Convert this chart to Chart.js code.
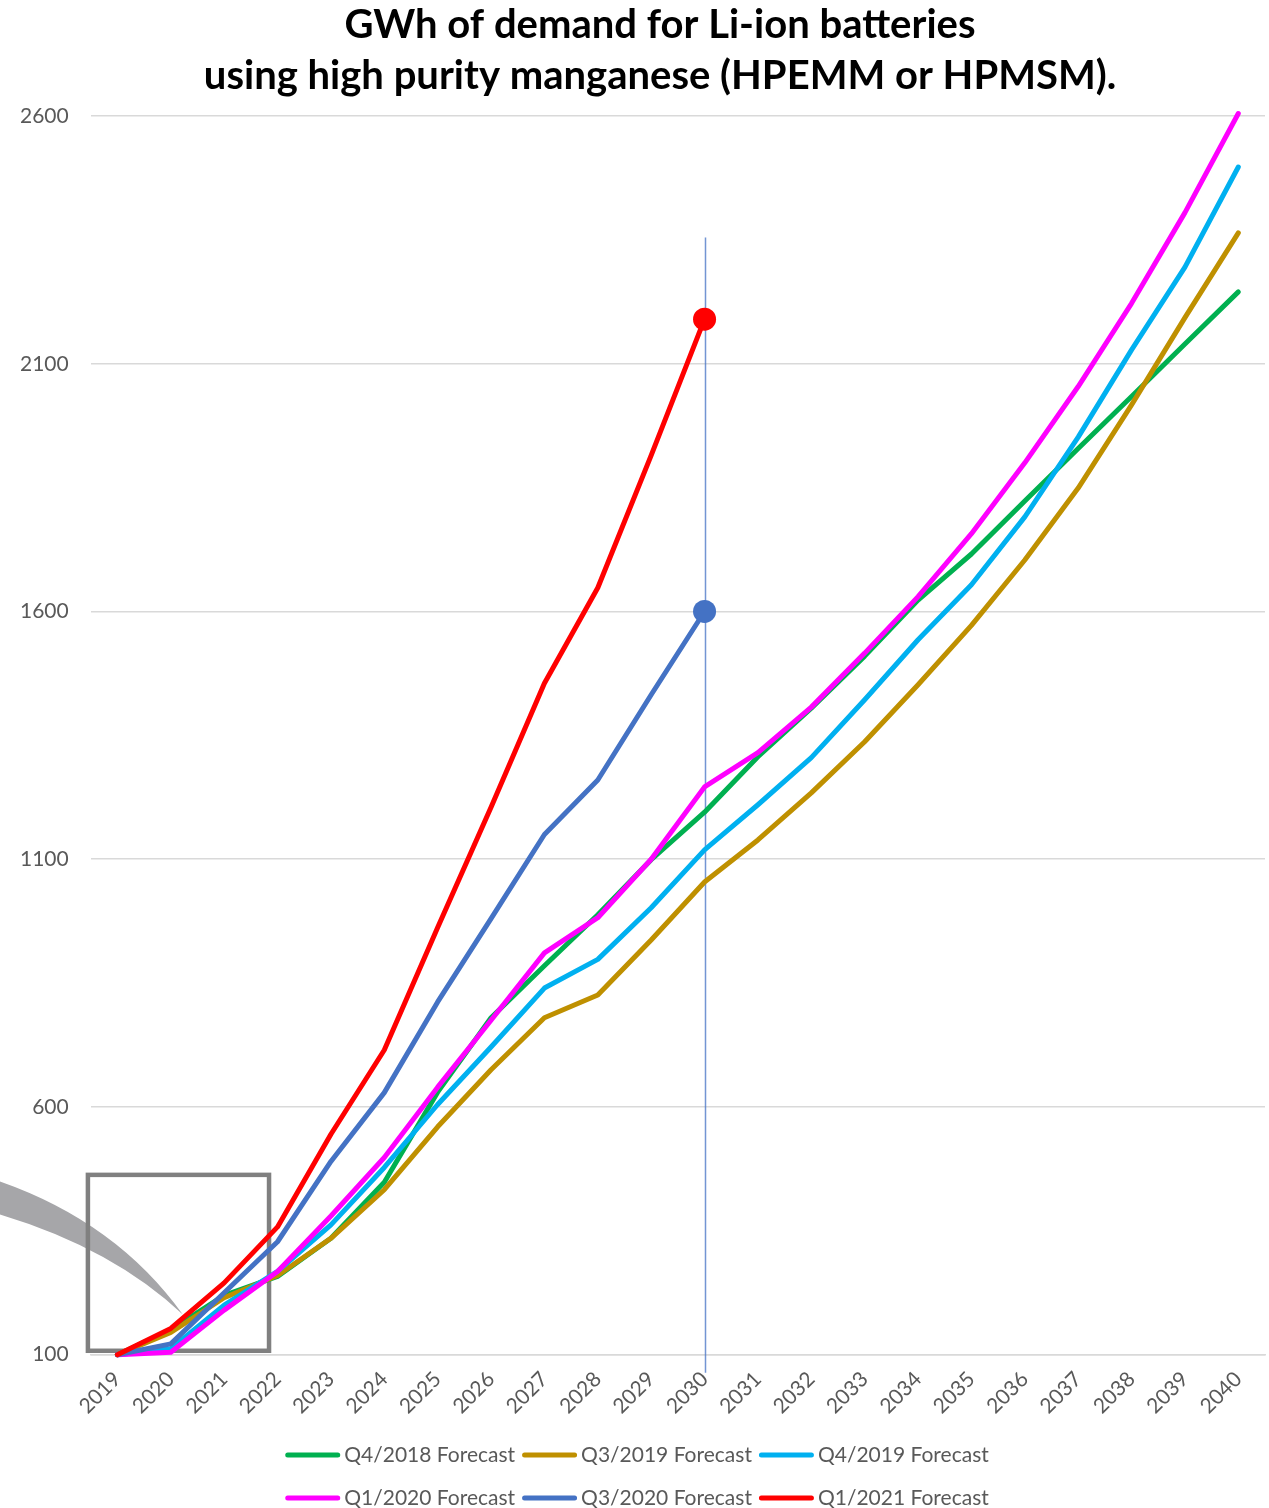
<!DOCTYPE html>
<html>
<head>
<meta charset="utf-8">
<title>GWh of demand for Li-ion batteries using high purity manganese</title>
<script src="https://cdn.jsdelivr.net/npm/chart.js@4.4.1/dist/chart.umd.min.js"></script>
<style>
  html, body { margin: 0; padding: 0; background: #ffffff; }
  #wrap { width: 1269px; height: 1508px; position: relative; }
</style>
</head>
<body>
<div id="wrap"><canvas id="chart" width="1269" height="1508"></canvas></div>
<script>
// Forecast years on the category axis
const years = ['2019','2020','2021','2022','2023','2024','2025','2026','2027','2028','2029','2030',
               '2031','2032','2033','2034','2035','2036','2037','2038','2039','2040'];

// GWh demand, one array per forecast vintage
const q4_2018 = [100, 150, 220, 258, 335, 448, 630, 780, 885, 988, 1099, 1195, 1307, 1405, 1510, 1623, 1716, 1823, 1929, 2034, 2140, 2245];
const q3_2019 = [100, 145, 215, 260, 335, 433, 560, 675, 780, 826, 937, 1054, 1139, 1234, 1337, 1452, 1572, 1704, 1849, 2017, 2193, 2364];
const q4_2019 = [100, 112, 200, 268, 362, 478, 605, 721, 840, 898, 1002, 1119, 1210, 1305, 1422, 1543, 1654, 1791, 1952, 2128, 2295, 2497];
const q1_2020 = [100, 105, 190, 268, 380, 498, 640, 775, 911, 982, 1100, 1246, 1315, 1407, 1516, 1630, 1757, 1900, 2054, 2222, 2405, 2605];
const q3_2020 = [100, 122, 225, 328, 490, 629, 812, 980, 1150, 1260, 1432, 1600];
const q1_2021 = [100, 153, 245, 358, 545, 715, 962, 1205, 1455, 1648, 1915, 2190];

// Y axis range and tick step
const yMin = 100;
const yMax = 2600;
const yStep = 500;

const seriesNames = ['Q4/2018 Forecast', 'Q3/2019 Forecast', 'Q4/2019 Forecast',
                     'Q1/2020 Forecast', 'Q3/2020 Forecast', 'Q1/2021 Forecast'];
const seriesColors = ['#00B050', '#BF9000', '#00B0F0', '#FF00FF', '#4472C4', '#FF0000'];
const seriesData = [q4_2018, q3_2019, q4_2019, q1_2020, q3_2020, q1_2021];

const titleLines = ['GWh of demand for Li-ion batteries', 'using high purity manganese (HPEMM or HPMSM).'];

const FONT = "Lato, 'Open Sans', 'Noto Sans', sans-serif";
const TEXT_GREY = '#595959';

// Marker only on the final year of the shorter forecasts
function endMarker(arr) {
  return arr.map((v, i) => (i === arr.length - 1 && arr.length < years.length) ? 11.5 : 0);
}

const datasets = seriesData.map((arr, i) => ({
  label: seriesNames[i],
  data: arr,
  borderColor: seriesColors[i],
  backgroundColor: seriesColors[i],
  borderWidth: 5,
  borderJoinStyle: 'round',
  borderCapStyle: 'round',
  tension: 0,
  fill: false,
  pointRadius: endMarker(arr),
  pointHoverRadius: endMarker(arr),
  pointBorderWidth: 0,
  pointBackgroundColor: seriesColors[i],
  clip: false,
  order: seriesData.length - i
}));

// Title, legend, the 2030 marker line and the zoom callout
const decorations = {
  id: 'decorations',
  beforeDatasetsDraw(chart) {
    const { ctx, scales: { x, y }, chartArea } = chart;
    ctx.save();

    // callout tail
    const tipX = x.getPixelForValue(1) + 12;
    const tipY = y.getPixelForValue(181);
    ctx.fillStyle = '#a6a6a9';
    ctx.beginPath();
    ctx.moveTo(0, tipY - 133);
    ctx.quadraticCurveTo(tipX - 66, tipY - 92, tipX, tipY);
    ctx.quadraticCurveTo(tipX - 70, tipY - 66, 0, tipY - 100);
    ctx.closePath();
    ctx.fill();

    // callout frame around the early years
    const bx0 = x.getPixelForValue(0) - 29.5;
    const bx1 = x.getPixelForValue(3) - 8.5;
    const by0 = y.getPixelForValue(463);
    const by1 = y.getPixelForValue(108);
    ctx.strokeStyle = '#808080';
    ctx.lineWidth = 4.5;
    ctx.strokeRect(bx0, by0, bx1 - bx0, by1 - by0);

    // vertical marker at 2030
    const vx = Math.round(x.getPixelForValue(years.indexOf('2030'))) + 0.5;
    ctx.strokeStyle = 'rgba(68,114,196,0.75)';
    ctx.lineWidth = 1.5;
    ctx.beginPath();
    ctx.moveTo(vx, y.getPixelForValue(2355));
    ctx.lineTo(vx, chartArea.bottom + 18);
    ctx.stroke();
    ctx.restore();
  },
  afterDraw(chart) {
    const { ctx } = chart;
    ctx.save();
    // title
    ctx.fillStyle = '#000000';
    ctx.font = `bold 40px ${FONT}`;
    ctx.textAlign = 'center';
    ctx.textBaseline = 'middle';
    ctx.fillText(titleLines[0], 660, 25);
    ctx.fillText(titleLines[1], 660, 76);

    // legend: three entries per row
    ctx.font = `21px ${FONT}`;
    ctx.textAlign = 'left';
    const sw = 55, gapText = 4, gapItem = 7;
    const rows = [[0, 1, 2], [3, 4, 5]];
    const rowY = [1455, 1498];
    const itemW = chart.data.datasets.map(d => sw + gapText + ctx.measureText(d.label).width);
    const colW = [0, 1, 2].map(c => Math.max(itemW[c], itemW[c + 3]));
    const total = colW[0] + colW[1] + colW[2] + 2 * gapItem;
    const startX = 637 - total / 2;
    rows.forEach((row, r) => {
      let cx = startX;
      row.forEach((di, c) => {
        const ds = chart.data.datasets[di];
        ctx.strokeStyle = ds.borderColor;
        ctx.lineWidth = 5;
        ctx.lineCap = 'round';
        ctx.beginPath();
        ctx.moveTo(cx + 2.5, rowY[r]);
        ctx.lineTo(cx + sw - 2.5, rowY[r]);
        ctx.stroke();
        ctx.fillStyle = TEXT_GREY;
        ctx.fillText(ds.label, cx + sw + gapText, rowY[r]);
        cx += colW[c] + gapItem;
      });
    });
    ctx.restore();
  }
};

new Chart(document.getElementById('chart'), {
  type: 'line',
  data: { labels: years, datasets },
  options: {
    responsive: false,
    animation: false,
    events: [],
    layout: { autoPadding: false, padding: { top: 116, right: 4, bottom: 85, left: -2 } },
    plugins: {
      legend: { display: false },
      title: { display: false },
      tooltip: { enabled: false }
    },
    scales: {
      x: {
        offset: true,
        grid: { display: false },
        border: { display: true, color: '#d9d9d9', width: 1.5 },
        // rotated labels never reach past the last category, so no extra right margin
        afterFit: (scale) => { scale.paddingRight = 0; },
        ticks: {
          color: TEXT_GREY,
          font: { family: FONT, size: 21 },
          minRotation: 45,
          maxRotation: 45,
          padding: 4,
          autoSkip: false
        }
      },
      y: {
        min: yMin,
        max: yMax,
        border: { display: false },
        grid: { color: '#d9d9d9', lineWidth: 1.5, drawTicks: false },
        ticks: {
          stepSize: yStep,
          color: TEXT_GREY,
          font: { family: FONT, size: 21 },
          padding: 22,
          callback: (v) => String(v)
        }
      }
    }
  },
  plugins: [decorations]
});
</script>
</body>
</html>
